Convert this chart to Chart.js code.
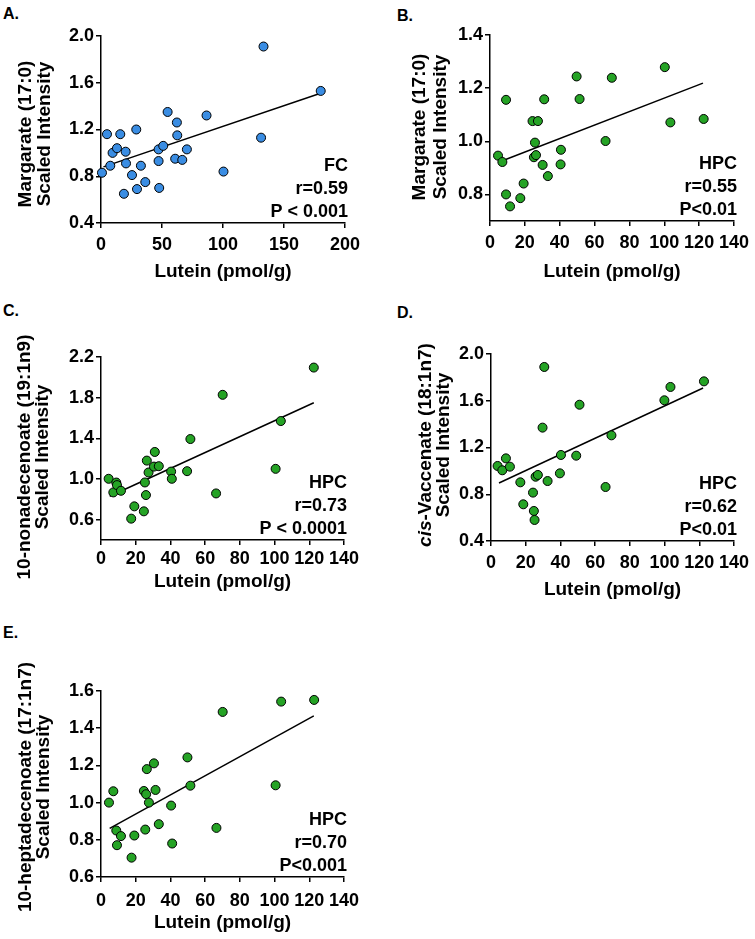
<!DOCTYPE html>
<html>
<head>
<meta charset="utf-8">
<script src="https://cdn.jsdelivr.net/npm/chart.js@4.4.1/dist/chart.umd.min.js"></script>
<style>
  body { margin: 0; background: #fff; }
  #fig { position: relative; width: 755px; height: 939px; font-family: Arial, "Liberation Sans", sans-serif; }
  canvas { position: absolute; }
  .tag { position: absolute; font-weight: bold; font-size: 16px; line-height: 16px; }
</style>
</head>
<body>
<div id="fig">
  <div class="tag" style="left:3px;top:6px">A.</div>
  <div class="tag" style="left:397px;top:8px">B.</div>
  <div class="tag" style="left:3px;top:303px">C.</div>
  <div class="tag" style="left:397px;top:305px">D.</div>
  <div class="tag" style="left:3px;top:625px">E.</div>
  <canvas id="chartA" style="left:0;top:0" width="370" height="300"></canvas>
  <canvas id="chartB" style="left:370px;top:0" width="385" height="300"></canvas>
  <canvas id="chartC" style="left:0;top:300px" width="370" height="300"></canvas>
  <canvas id="chartD" style="left:370px;top:300px" width="385" height="300"></canvas>
  <canvas id="chartE" style="left:0;top:600px" width="370" height="339"></canvas>
</div>
<script>
// A. FC - margarate (17:0)
const luteinA = [0.8, 4.9, 7.6, 9.5, 13.1, 15.8, 18.8, 20.2, 20.5, 25.4, 28.9, 29.5, 32.7, 36.3, 47.2, 47.2, 47.7, 51.0, 54.6, 60.8, 62.2, 62.5, 66.6, 70.4, 86.5, 100.4, 131.2, 133.2, 180.1];
const margarateA = [0.83, 1.16, 0.89, 1.00, 1.04, 1.16, 0.65, 1.01, 0.91, 0.81, 1.20, 0.69, 0.89, 0.75, 0.93, 1.03, 0.70, 1.06, 1.35, 0.95, 1.26, 1.15, 0.94, 1.03, 1.32, 0.84, 1.13, 1.91, 1.53];
const fitXA = [2, 180];
const fitYA = [0.88, 1.51];

// B. HPC - margarate (17:0)
const luteinB = [4.6, 7.1, 9.2, 9.2, 11.5, 17.4, 19.3, 24.4, 25.2, 25.8, 26.4, 27.5, 30.2, 31.1, 33.2, 40.5, 40.7, 49.7, 51.4, 66.3, 69.9, 100.3, 103.5, 122.6];
const margarateB = [0.946, 0.922, 1.156, 0.80, 0.755, 0.786, 0.841, 1.076, 0.94, 0.995, 0.948, 1.076, 0.911, 1.158, 0.869, 0.913, 0.968, 1.244, 1.159, 1.001, 1.239, 1.279, 1.071, 1.084];
const fitXB = [7.1, 122.2];
const fitYB = [0.927, 1.219];

// C. HPC - 10-nonadecenoate (19:1n9)
const luteinC = [4.4, 7.1, 8.8, 9.2, 11.5, 17.4, 19.2, 24.7, 25.3, 25.9, 26.4, 27.4, 30.5, 31.0, 33.3, 40.4, 40.8, 49.6, 51.5, 66.3, 70.1, 100.6, 103.6, 122.6];
const nonadecenoateC = [1.002, 0.868, 0.965, 0.94, 0.884, 0.61, 0.731, 0.682, 0.966, 0.842, 1.181, 1.064, 1.122, 1.266, 1.126, 1.073, 1.002, 1.077, 1.393, 0.858, 1.828, 1.10, 1.570, 2.096];
const fitXC = [5, 122.6];
const fitYC = [0.83, 1.75];

// D. HPC - cis-vaccenate (18:1n7)
const luteinD = [3.8, 6.5, 8.6, 10.9, 16.9, 18.6, 24.2, 24.7, 25.1, 25.7, 27.0, 29.7, 30.7, 32.6, 39.7, 40.3, 49.1, 51.0, 66.0, 69.4, 99.9, 103.4, 122.7];
const vaccenateD = [1.042, 1.005, 1.107, 1.036, 0.902, 0.714, 0.814, 0.657, 0.580, 0.95, 0.965, 1.37, 1.889, 0.913, 0.979, 1.136, 1.130, 1.566, 0.862, 1.304, 1.604, 1.718, 1.766];
const fitXD = [4.6, 122.2];
const fitYD = [0.896, 1.709];

// E. HPC - 10-heptadecenoate (17:1n7)
const luteinE = [4.6, 7.1, 8.8, 9.2, 11.5, 17.6, 19.2, 24.7, 25.5, 26.0, 26.4, 27.6, 30.5, 31.4, 33.3, 40.4, 41.0, 49.8, 51.5, 66.5, 70.1, 100.6, 103.8, 122.8];
const heptadecenoateE = [1.0, 1.061, 0.850, 0.771, 0.820, 0.704, 0.823, 1.0625, 0.855, 1.045, 1.18, 1.0, 1.211, 1.068, 0.884, 0.984, 0.780, 1.243, 1.091, 0.864, 1.4875, 1.093, 1.543, 1.552];
const fitXE = [5.0, 122.6];
const fitYE = [0.861, 1.466];

// ticks
const xTicksFC = [0, 50, 100, 150, 200];
const xTicksHPC = [0, 20, 40, 60, 80, 100, 120, 140];
const yTicksA = [0.4, 0.8, 1.2, 1.6, 2.0];
const yTicksB = [0.8, 1.0, 1.2, 1.4];
const yTicksC = [0.6, 1.0, 1.4, 1.8, 2.2];
const yTicksD = [0.4, 0.8, 1.2, 1.6, 2.0];
const yTicksE = [0.6, 0.8, 1.0, 1.2, 1.4, 1.6];

const FONT = 'Arial, "Liberation Sans", sans-serif';
const BLUE = '#3a8de3';
const GREEN = '#25a325';

Chart.defaults.font.family = FONT;
Chart.defaults.color = '#000';

// draws stats text, x title and the rotated y title
const panelText = {
  id: 'panelText',
  afterDraw(chart, args, o) {
    const ctx = chart.ctx;
    const a = chart.chartArea;
    ctx.save();
    ctx.fillStyle = '#000';
    ctx.font = 'bold 18px ' + FONT;
    ctx.textAlign = 'right';
    ctx.textBaseline = 'middle';
    const dys = [-57, -34, -11];
    o.stats.forEach(function (s, i) {
      ctx.fillText(s, a.right + 3, a.bottom + dys[i]);
    });

    ctx.font = 'bold 19px ' + FONT;
    ctx.textAlign = 'center';
    ctx.fillText('Lutein (pmol/g)', (a.left + a.right) / 2, a.bottom + o.xTitleDy);

    ctx.translate(0, o.yTitleY);
    ctx.rotate(-Math.PI / 2);
    ctx.textAlign = 'left';
    ctx.textBaseline = 'alphabetic';
    o.yTitle.forEach(function (parts, i) {
      let total = 0;
      parts.forEach(function (p) {
        ctx.font = (p[1] ? 'italic ' : '') + 'bold 19px ' + FONT;
        total += ctx.measureText(p[0]).width;
      });
      let u = -total / 2;
      parts.forEach(function (p) {
        ctx.font = (p[1] ? 'italic ' : '') + 'bold 19px ' + FONT;
        ctx.fillText(p[0], u, o.yTitleX[i]);
        u += ctx.measureText(p[0]).width;
      });
    });
    ctx.restore();
  }
};

function makePanel(id, p) {
  const canvas = document.getElementById(id);
  const W = canvas.width, H = canvas.height;
  const pts = p.xs.map(function (x, i) { return { x: x, y: p.ys[i] }; });
  const fit = p.fitX.map(function (x, i) { return { x: x, y: p.fitY[i] }; });
  const tickFont = { size: 18, weight: 'bold' };
  return new Chart(canvas, {
    type: 'scatter',
    data: {
      datasets: [
        {
          data: pts,
          pointRadius: 4.5,
          pointBackgroundColor: p.color,
          pointBorderColor: '#000',
          pointBorderWidth: 1,
          clip: false,
          order: 0
        },
        {
          type: 'line',
          data: fit,
          showLine: true,
          borderColor: '#000',
          borderWidth: 1.5,
          pointRadius: 0,
          fill: false,
          clip: false,
          order: 1
        }
      ]
    },
    options: {
      responsive: false,
      animation: false,
      events: [],
      layout: { padding: { left: 0, top: p.area[1], right: W - p.area[2], bottom: 0 } },
      plugins: {
        legend: { display: false },
        tooltip: { enabled: false },
        panelText: {
          stats: p.stats,
          xTitleDy: p.xTitleDy,
          yTitle: p.yTitle,
          yTitleX: p.yTitleX,
          yTitleY: p.yTitleY
        }
      },
      scales: {
        x: {
          type: 'linear',
          min: p.xTicks[0],
          max: p.xTicks[p.xTicks.length - 1],
          afterBuildTicks: function (s) { s.ticks = p.xTicks.map(function (v) { return { value: v }; }); },
          afterFit: function (s) { s.height = H - p.area[3]; },
          ticks: { font: tickFont, color: '#000', padding: p.xTickPad, maxRotation: 0, autoSkip: false },
          grid: { drawOnChartArea: false, color: '#000', lineWidth: 1.5, tickLength: 5 },
          border: { color: '#000', width: 1.5 }
        },
        y: {
          type: 'linear',
          min: p.yMin,
          max: p.yTicks[p.yTicks.length - 1],
          afterBuildTicks: function (s) { s.ticks = p.yTicks.map(function (v) { return { value: v }; }); },
          afterFit: function (s) { s.width = p.area[0]; },
          ticks: {
            font: tickFont, color: '#000', padding: 2, autoSkip: false,
            callback: function (v) { return Number(v).toFixed(1); }
          },
          grid: { drawOnChartArea: false, color: '#000', lineWidth: 1.5, tickLength: 5 },
          border: { color: '#000', width: 1.5 }
        }
      }
    },
    plugins: [panelText]
  });
}

makePanel('chartA', {
  xs: luteinA, ys: margarateA, fitX: fitXA, fitY: fitYA, color: BLUE,
  xTicks: xTicksFC, yTicks: yTicksA, yMin: 0.4,
  area: [101, 36, 345, 223], xTickPad: 6, xTitleDy: 49,
  stats: ['FC', 'r=0.59', 'P < 0.001'],
  yTitle: [[['Margarate (17:0)', false]], [['Scaled Intensity', false]]],
  yTitleX: [31, 50], yTitleY: 134
});

makePanel('chartB', {
  xs: luteinB, ys: margarateB, fitX: fitXB, fitY: fitYB, color: GREEN,
  xTicks: xTicksHPC, yTicks: yTicksB, yMin: 0.7,
  area: [120, 35, 364, 221], xTickPad: 6, xTitleDy: 51,
  stats: ['HPC', 'r=0.55', 'P<0.01'],
  yTitle: [[['Margarate (17:0)', false]], [['Scaled Intensity', false]]],
  yTitleX: [55, 76], yTitleY: 127
});

makePanel('chartC', {
  xs: luteinC, ys: nonadecenoateC, fitX: fitXC, fitY: fitYC, color: GREEN,
  xTicks: xTicksHPC, yTicks: yTicksC, yMin: 0.4,
  area: [101, 57, 344, 240], xTickPad: 3, xTitleDy: 42,
  stats: ['HPC', 'r=0.73', 'P < 0.0001'],
  yTitle: [[['10-nonadecenoate (19:1n9)', false]], [['Scaled Intensity', false]]],
  yTitleX: [30, 48], yTitleY: 157
});

makePanel('chartD', {
  xs: luteinD, ys: vaccenateD, fitX: fitXD, fitY: fitYD, color: GREEN,
  xTicks: xTicksHPC, yTicks: yTicksD, yMin: 0.4,
  area: [121, 54, 364, 241], xTickPad: 6, xTitleDy: 49,
  stats: ['HPC', 'r=0.62', 'P<0.01'],
  yTitle: [[['cis', true], ['-Vaccenate (18:1n7)', false]], [['Scaled Intensity', false]]],
  yTitleX: [61, 79], yTitleY: 145
});

makePanel('chartE', {
  xs: luteinE, ys: heptadecenoateE, fitX: fitXE, fitY: fitYE, color: GREEN,
  xTicks: xTicksHPC, yTicks: yTicksE, yMin: 0.6,
  area: [101, 91, 344, 277], xTickPad: 8, xTitleDy: 46,
  stats: ['HPC', 'r=0.70', 'P<0.001'],
  yTitle: [[['10-heptadecenoate (17:1n7)', false]], [['Scaled Intensity', false]]],
  yTitleX: [31, 49], yTitleY: 187
});
</script>
</body>
</html>
